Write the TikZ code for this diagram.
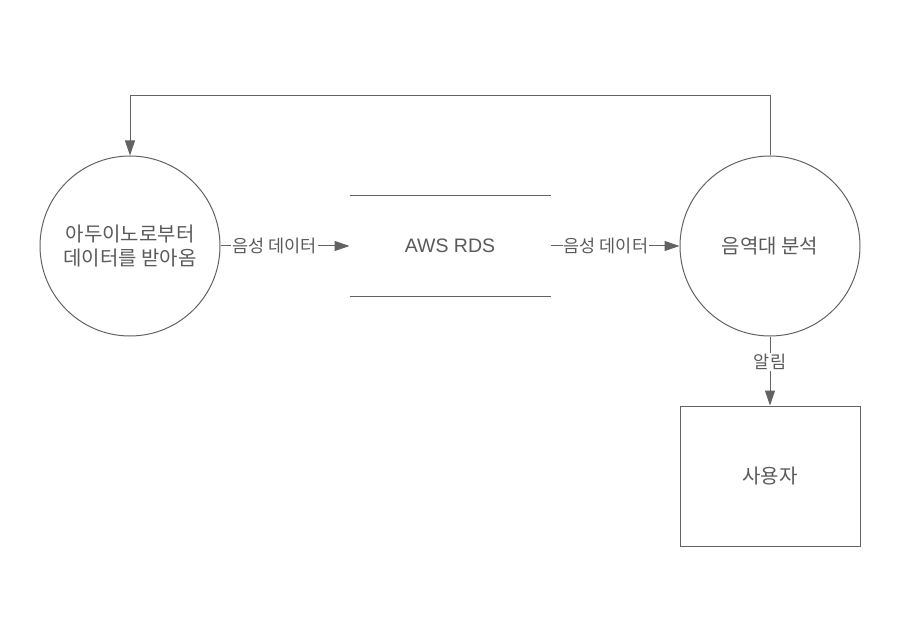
\documentclass[tikz,border=0pt]{standalone}
\usepackage{fontspec}
\setmainfont{Liberation Sans}
\newfontfamily\kr{Noto Sans CJK KR}
\usetikzlibrary{arrows.meta}
\definecolor{linec}{HTML}{636363}
\definecolor{textc}{HTML}{5A5A5A}
\begin{document}
\begin{tikzpicture}[x=1pt,y=-1pt,
  every path/.style={line width=1pt},
  proc/.style={circle,draw=linec,minimum size=180pt,inner sep=0pt,align=center,text=textc,font=\kr\fontsize{20}{24}\selectfont},
  ent/.style={rectangle,draw=linec,minimum width=180pt,minimum height=140pt,inner sep=0pt,text=textc,font=\kr\fontsize{20}{24}\selectfont},
  store/.style={rectangle,minimum width=200pt,minimum height=100pt,inner sep=0pt,text=textc,font=\fontsize{19.5}{24}\selectfont},
  arr/.style={draw=linec,-{Triangle[length=15pt,width=10pt]},color=linec},
  lbl/.style={fill=white,inner sep=1pt,text=textc,font=\kr\fontsize{17.5}{20}\selectfont}
]
\path[use as bounding box,fill=white] (0,0) rectangle (919,631);
\node[proc] (c1) at (130,246) {아두이노로부터\\데이터를 받아옴};
\node[store] (rds) at (450,246) {AWS RDS};
\draw[linec] (rds.north west) -- (rds.north east);
\draw[linec] (rds.south west) -- (rds.south east);
\node[proc] (c2) at (770,246) {음역대 분석};
\node[ent] (user) at (770,476) {사용자};
\coordinate (top) at (770,96);
\draw[arr] (c1) -- node[lbl,pos=0.42]{음성 데이터} (rds);
\draw[arr] (rds) -- node[lbl,pos=0.43]{음성 데이터} (c2);
\draw[arr] (c2) -- node[lbl,pos=0.37]{알림} (user);
\draw[arr] (c2.north) -- (top) -| (c1.north);
\end{tikzpicture}
\end{document}
